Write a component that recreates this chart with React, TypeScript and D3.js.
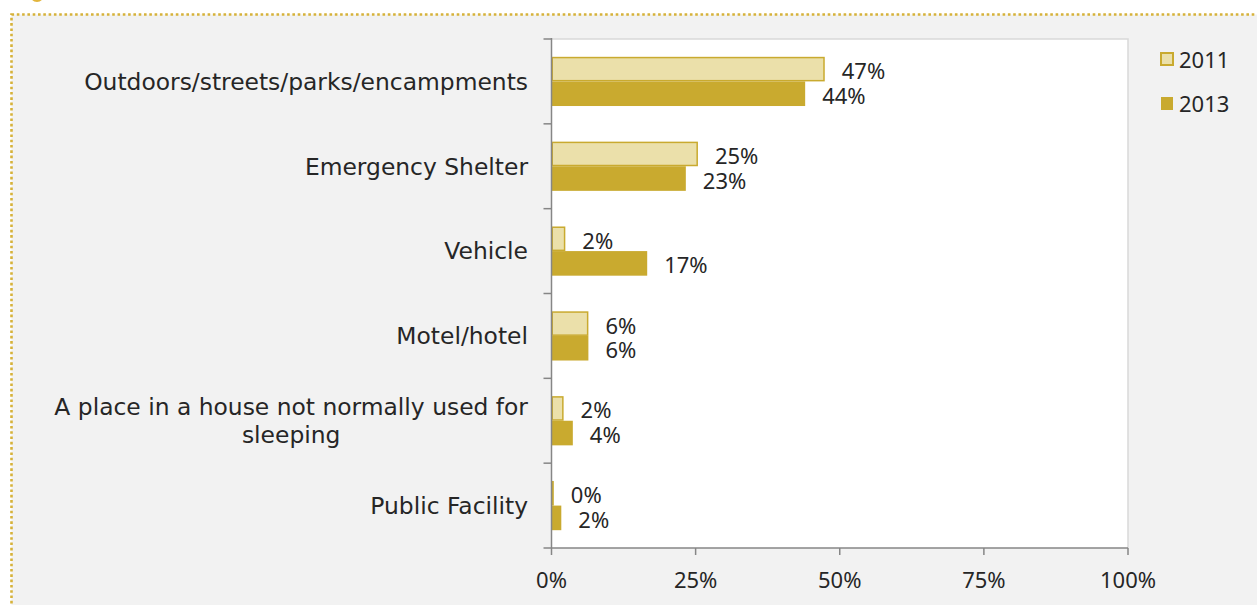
import React, { useEffect, useRef } from "react";
import * as d3 from "d3";

const categories = [
  "Outdoors/streets/parks/encampments",
  "Emergency Shelter",
  "Vehicle",
  "Motel/hotel",
  "A place in a house not normally used for sleeping",
  "Public Facility",
];
const seriesNames = ["2011", "2013"];
const values2011 = [47.4, 25.4, 2.4, 6.4, 2.1, 0.4];
const values2013 = [44.0, 23.3, 16.6, 6.4, 3.7, 1.7];
const xTicks = [0, 25, 50, 75, 100];

const W = 1257;
const H = 605;
const LIGHT = "#ebe0aa";
const GOLD = "#c9aa2f";
const TEXT = "#262626";
const AXIS = "#868686";
const CAT_FONT = "'DejaVu Sans', sans-serif";
const NUM_FONT = "'Noto Sans', 'Open Sans', sans-serif";

function wrapWords(s: string, maxChars: number): string[] {
  const words = s.split(" ");
  const lines: string[] = [];
  let cur = "";
  for (const w of words) {
    const next = cur ? cur + " " + w : w;
    if (next.length > maxChars && cur) {
      lines.push(cur);
      cur = w;
    } else cur = next;
  }
  if (cur) lines.push(cur);
  return lines;
}

export default function App() {
  const ref = useRef<SVGSVGElement>(null);

  useEffect(() => {
    const svg = d3.select(ref.current);
    svg.selectAll("*").remove();

    const left = 551.5;
    const right = 1128;
    const top = 39;
    const bottom = 548;

    // backgrounds
    svg.append("rect").attr("width", W).attr("height", H).attr("fill", "#ffffff");
    svg
      .append("rect")
      .attr("x", 11.5)
      .attr("y", 14.5)
      .attr("width", W + 100)
      .attr("height", H + 100)
      .attr("fill", "#f2f2f2")
      .attr("stroke", "#d6b23a")
      .attr("stroke-width", 2.6)
      .attr("stroke-dasharray", "2.6 2.7");
    svg.append("circle").attr("cx", 37).attr("cy", -5).attr("r", 7).attr("fill", "#e2b53c");

    // plot area
    svg
      .append("rect")
      .attr("x", left)
      .attr("y", top)
      .attr("width", right - left)
      .attr("height", bottom - top)
      .attr("fill", "#ffffff");
    svg
      .append("path")
      .attr("d", `M${left},${top}H${right}V${bottom}`)
      .attr("fill", "none")
      .attr("stroke", "#d9d9d9")
      .attr("stroke-width", 1.5);

    const x = d3.scaleLinear().domain([0, 100]).range([left, right]);
    const y = d3
      .scaleBand<string>()
      .domain(categories)
      .range([top, bottom])
      .paddingInner(0.42)
      .paddingOuter(0.21);
    const ySub = d3.scaleBand<string>().domain(seriesNames).range([0, y.bandwidth()]);
    const step = y.step();

    const data = categories.map((c, i) => ({
      cat: c,
      vals: [
        { key: "2011", v: values2011[i] },
        { key: "2013", v: values2013[i] },
      ],
    }));

    const g = svg.append("g");
    data.forEach((d) => {
      const y0 = y(d.cat)!;
      d.vals.forEach((s) => {
        const yy = y0 + ySub(s.key)!;
        const h = ySub.bandwidth();
        if (s.key === "2011") {
          g.append("rect")
            .attr("x", x(0) + 0.75)
            .attr("y", yy + 0.75)
            .attr("width", Math.max(0, x(s.v) - x(0) - 1.5))
            .attr("height", h - 1.5)
            .attr("fill", LIGHT)
            .attr("stroke", GOLD)
            .attr("stroke-width", 1.5);
        } else {
          g.append("rect")
            .attr("x", x(0))
            .attr("y", yy)
            .attr("width", x(s.v) - x(0))
            .attr("height", h)
            .attr("fill", GOLD);
        }
        g.append("text")
          .attr("x", x(s.v) + 17)
          .attr("y", yy + h / 2 + 10)
          .attr("font-family", NUM_FONT)
          .attr("font-size", 22)
          .attr("fill", TEXT)
          .text(`${Math.round(s.v)}%`);
      });
    });

    // y axis line + ticks at category boundaries
    const axisG = svg.append("g");
    axisG
      .append("line")
      .attr("x1", left)
      .attr("x2", left)
      .attr("y1", top - 1)
      .attr("y2", bottom)
      .attr("stroke", AXIS)
      .attr("stroke-width", 1.5);
    d3.range(categories.length + 1).forEach((i) => {
      const yy = top + i * step;
      axisG
        .append("line")
        .attr("x1", left - 8)
        .attr("x2", left)
        .attr("y1", yy)
        .attr("y2", yy)
        .attr("stroke", AXIS)
        .attr("stroke-width", 1.5);
    });

    // x axis
    axisG
      .append("line")
      .attr("x1", left)
      .attr("x2", right)
      .attr("y1", bottom)
      .attr("y2", bottom)
      .attr("stroke", AXIS)
      .attr("stroke-width", 1.5);
    xTicks.forEach((t) => {
      axisG
        .append("line")
        .attr("x1", x(t))
        .attr("x2", x(t))
        .attr("y1", bottom)
        .attr("y2", bottom + 7)
        .attr("stroke", AXIS)
        .attr("stroke-width", 1.5);
      axisG
        .append("text")
        .attr("x", x(t))
        .attr("y", 588)
        .attr("text-anchor", "middle")
        .attr("font-family", NUM_FONT)
        .attr("font-size", 22)
        .attr("fill", TEXT)
        .text(`${t}%`);
    });

    // category labels
    categories.forEach((c) => {
      const lines = wrapWords(c, 40);
      const cy = y(c)! + y.bandwidth() / 2;
      const lh = 28;
      const t = svg
        .append("text")
        .attr("font-family", CAT_FONT)
        .attr("font-size", 23.4)
        .attr("fill", TEXT)
        .attr("text-anchor", "middle");
      lines.forEach((ln, i) => {
        t.append("tspan")
          .attr("y", cy + 8.3 + (i - (lines.length - 1) / 2) * lh)
          .text(ln);
      });
      const tspans = t.selectAll<SVGTSpanElement, unknown>("tspan").nodes();
      const maxW = d3.max(tspans, (n) => n.getComputedTextLength()) || 0;
      const cx = 528 - maxW / 2;
      t.selectAll("tspan").attr("x", cx);
    });

    // legend
    const lg = svg.append("g");
    lg.append("rect")
      .attr("x", 1161)
      .attr("y", 53)
      .attr("width", 12)
      .attr("height", 12)
      .attr("fill", LIGHT)
      .attr("stroke", GOLD)
      .attr("stroke-width", 2);
    lg.append("rect")
      .attr("x", 1161)
      .attr("y", 97)
      .attr("width", 12)
      .attr("height", 13)
      .attr("fill", GOLD);
    seriesNames.forEach((s, i) => {
      lg.append("text")
        .attr("x", 1179)
        .attr("y", 68 + i * 44)
        .attr("font-family", NUM_FONT)
        .attr("font-size", 22)
        .attr("fill", TEXT)
        .text(s);
    });
  }, []);

  return (
    <svg
      ref={ref}
      width={W}
      height={H}
      style={{ position: "absolute", left: 0, top: 0, display: "block" }}
    />
  );
}
